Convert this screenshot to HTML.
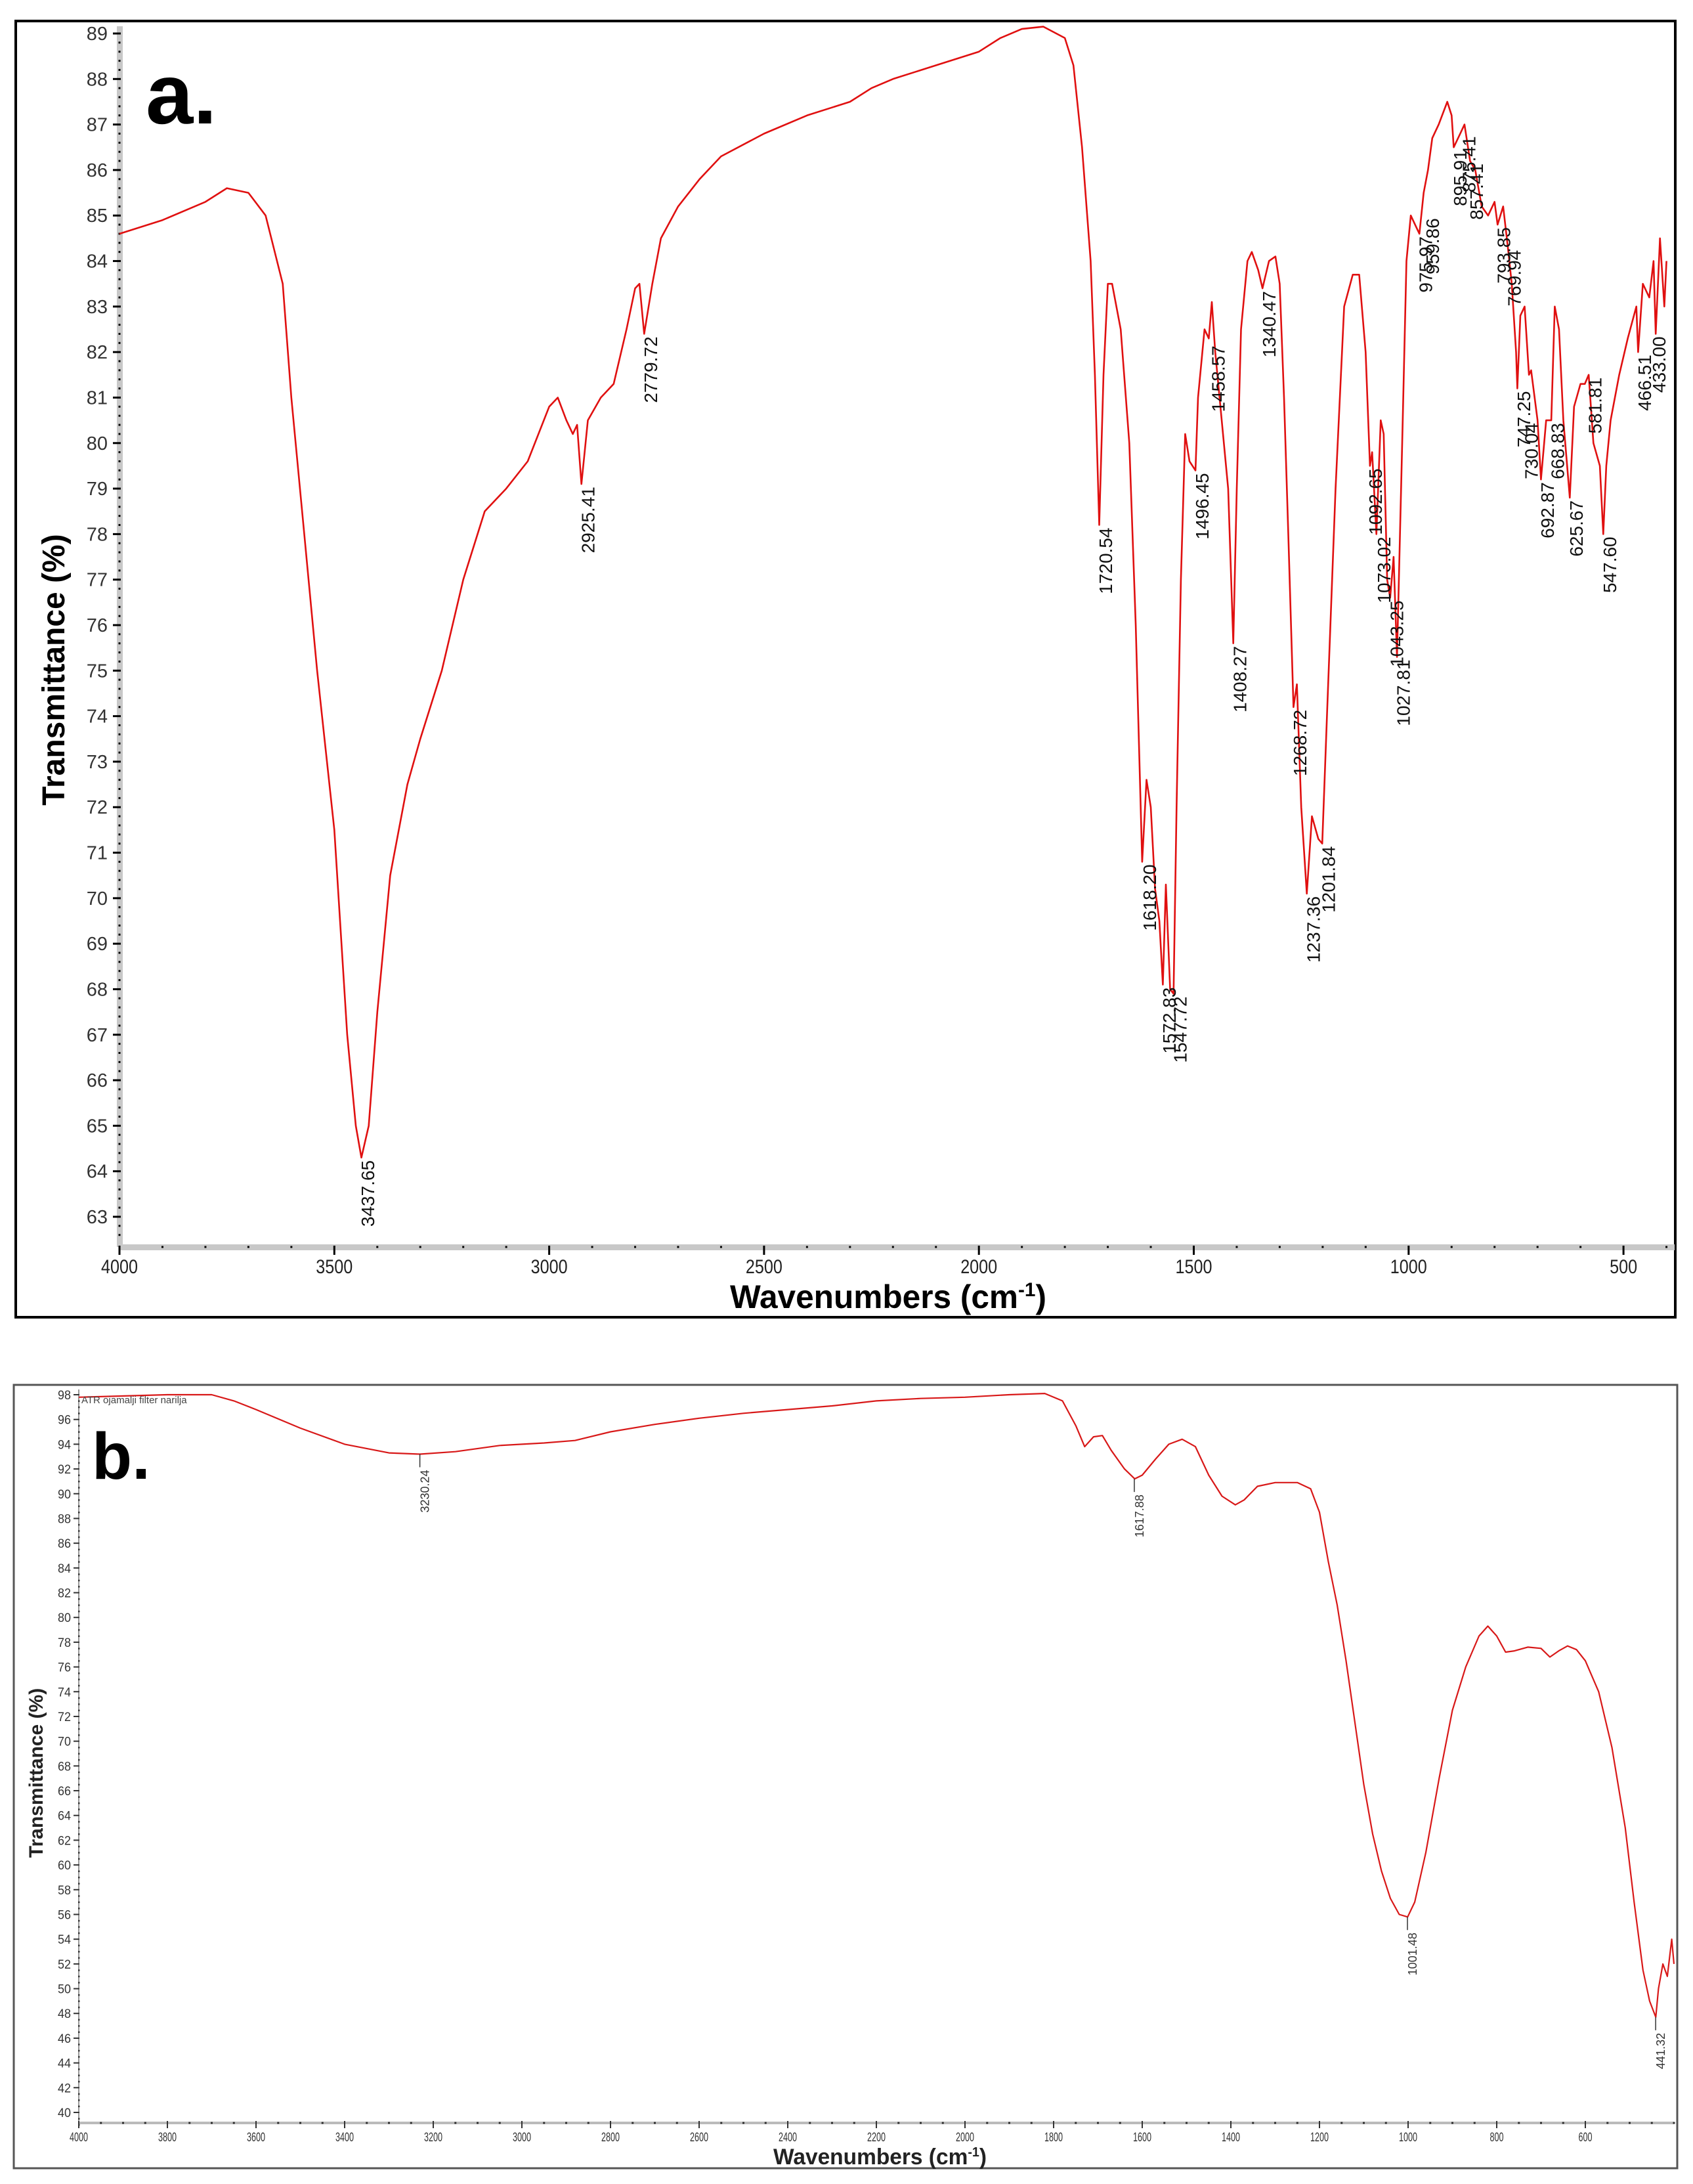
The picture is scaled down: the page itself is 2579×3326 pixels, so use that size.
<!DOCTYPE html>
<html><head><meta charset="utf-8"><title>FTIR spectra</title>
<style>html,body{margin:0;padding:0;background:#fff}svg{display:block}text{font-family:"Liberation Sans",sans-serif}</style></head>
<body>
<svg id="fig" width="2579" height="3326" viewBox="0 0 2579 3326" xmlns="http://www.w3.org/2000/svg">
<rect x="0" y="0" width="2579" height="3326" fill="#fff"/>
<rect x="24" y="32" width="2528" height="1974" fill="none" stroke="#000" stroke-width="4"/>
<rect x="21" y="2109" width="2534" height="1193" fill="none" stroke="#555" stroke-width="3"/>
<g id="ga"></g>
<g id="gb"></g>
</svg>
<script>
// Panel a data
const aWavenumbers=[4000,3900,3800,3750,3700,3660,3620,3600,3570,3540,3500,3470,3450,3437,3420,3400,3370,3330,3300,3250,3200,3150,3100,3050,3000,2980,2960,2945,2935,2925,2910,2880,2850,2820,2800,2790,2779,2760,2740,2700,2650,2600,2500,2400,2300,2250,2200,2100,2000,1950,1900,1850,1800,1780,1760,1740,1730,1720,1710,1700,1690,1670,1650,1635,1620,1610,1600,1590,1580,1572,1565,1555,1547,1540,1530,1520,1510,1496,1490,1475,1465,1458,1450,1440,1420,1408,1400,1390,1375,1365,1350,1340,1325,1310,1300,1290,1280,1268,1260,1250,1237,1225,1210,1201,1190,1170,1150,1130,1115,1100,1090,1085,1075,1065,1058,1050,1043,1035,1027,1015,1005,995,985,975,965,955,945,930,910,900,895,880,870,857,845,830,815,800,793,780,769,760,750,747,740,730,720,715,700,692,680,668,660,650,640,625,615,600,590,581,570,555,547,540,530,510,490,470,466,455,440,430,425,415,405,400];
const aTransmittance=[84.6,84.9,85.3,85.6,85.5,85.0,83.5,81,78,75,71.5,67,65,64.3,65,67.5,70.5,72.5,73.5,75,77,78.5,79,79.6,80.8,81,80.5,80.2,80.4,79.1,80.5,81.0,81.3,82.5,83.4,83.5,82.4,83.5,84.5,85.2,85.8,86.3,86.8,87.2,87.5,87.8,88.0,88.3,88.6,88.9,89.1,89.15,88.9,88.3,86.5,84,81.5,78.2,81.5,83.5,83.5,82.5,80,76,70.8,72.6,72.0,70.2,69.5,68.1,70.3,68.0,67.9,72,77,80.2,79.6,79.4,81,82.5,82.3,83.1,82.0,81,79,75.6,79,82.5,84.0,84.2,83.8,83.4,84.0,84.1,83.5,81,78,74.2,74.7,72,70.1,71.8,71.3,71.2,74,79,83,83.7,83.7,82,79.5,79.8,78.0,80.5,80.2,77,76.6,77.5,75.3,80,84.0,85.0,84.8,84.6,85.5,86.0,86.7,87.0,87.5,87.2,86.5,86.8,87.0,86.2,86.0,85.2,85.0,85.3,84.8,85.2,84.3,83.5,82.0,81.2,82.8,83.0,81.5,81.6,80.5,79.2,80.5,80.5,83.0,82.5,80.5,78.8,80.8,81.3,81.3,81.5,80.0,79.5,78.0,79.5,80.5,81.5,82.3,83.0,82.0,83.5,83.2,84.0,82.4,84.5,83.0,84.0];
const aPeakLabels=["3437.65","2925.41","2779.72","1720.54","1618.20","1572.83","1547.72","1496.45","1458.57","1408.27","1340.47","1268.72","1237.36","1201.84","1092.65","1073.02","1043.25","1027.81","975.97","959.86","895.91","875.41","857.41","793.85","769.94","747.25","730.04","692.87","668.83","625.67","581.81","547.60","466.51","433.00"];
const aPeakT=[64.3,79.1,82.4,78.2,70.8,68.1,67.9,79.4,82.2,75.6,83.4,74.2,70.1,71.2,79.5,78.0,76.6,75.3,84.6,85.0,86.5,86.8,86.2,84.8,84.3,81.2,80.5,79.2,80.5,78.8,81.5,78.0,82.0,82.4];
const aYTicks=[63,64,65,66,67,68,69,70,71,72,73,74,75,76,77,78,79,80,81,82,83,84,85,86,87,88,89];
const aXTicks=[4000,3500,3000,2500,2000,1500,1000,500];
// Panel b data
const bWavenumbers=[4000,3800,3700,3650,3600,3500,3400,3300,3230,3150,3050,2950,2880,2800,2700,2600,2500,2400,2300,2200,2100,2000,1900,1820,1780,1750,1730,1710,1690,1670,1640,1617,1600,1570,1540,1510,1480,1450,1420,1390,1370,1340,1300,1250,1220,1200,1180,1160,1140,1120,1100,1080,1060,1040,1020,1001,985,960,930,900,870,840,820,800,780,760,730,700,680,660,640,620,600,570,540,510,490,470,455,441,435,425,415,405,400];
const bTransmittance=[97.8,98.0,98.0,97.5,96.8,95.3,94.0,93.3,93.2,93.4,93.9,94.1,94.3,95.0,95.6,96.1,96.5,96.8,97.1,97.5,97.7,97.8,98.0,98.1,97.5,95.5,93.8,94.6,94.7,93.5,92.0,91.2,91.5,92.8,94.0,94.4,93.8,91.5,89.8,89.1,89.5,90.6,90.9,90.9,90.4,88.5,84.5,81.0,76.5,71.5,66.5,62.5,59.5,57.3,56.0,55.8,57.0,61,67,72.5,76,78.5,79.3,78.5,77.2,77.3,77.6,77.5,76.8,77.3,77.7,77.4,76.5,74,69.5,63,57,51.5,49.0,47.7,50,52,51,54,52];
const bPeakLabels=["3230.24","1617.88","1001.48","441.32"];
const bPeakWn=[3230.24,1617.88,1001.48,441.32];
const bPeakT=[93.2,91.2,55.8,47.7];
const bYTicks=[40,42,44,46,48,50,52,54,56,58,60,62,64,66,68,70,72,74,76,78,80,82,84,86,88,90,92,94,96,98];
const bXTicks=[4000,3800,3600,3400,3200,3000,2800,2600,2400,2200,2000,1800,1600,1400,1200,1000,800,600];

const NS="http://www.w3.org/2000/svg";
function mk(parent,tag,attrs,text){const e=document.createElementNS(NS,tag);for(const k in attrs)e.setAttribute(k,attrs[k]);if(text!==undefined)e.textContent=text;parent.appendChild(e);return e;}

// ---------- Panel a ----------
(function(){
const g=document.getElementById('ga');
const x0=182,x1=2551,wn0=4000,wnR=4000-(x1-x0)/327.3*500;
const X=w=>x0+(wn0-w)/(wn0-wnR)*(x1-x0);
const yTop=51,yBot=1853;
const Y=t=>yBot-(t-63)/(89-63)*(yBot-yTop);
const axY=1899;
let e=mk(g,'rect',{x:x0-4,y:40,width:9,height:axY-40,fill:'#c8c8c8'});

e=mk(g,'rect',{x:x0,y:axY-4,width:x1-x0,height:9,fill:'#c8c8c8'});

for(let v=62.6;v<=89.01;v+=0.2){const vv=Math.round(v*10)/10;const yy=Y(vv);if(Math.abs(vv-Math.round(vv))<0.01){mk(g,'line',{x1:x0-10,x2:x0+2,y1:yy,y2:yy,stroke:'#000','stroke-width':3});}else{mk(g,'rect',{x:x0-1.5,y:yy-1.5,width:3,height:3,fill:'#000'});}}
aYTicks.forEach(t=>{const el=mk(g,'text',{x:x0-18,y:Y(t)+10,'text-anchor':'end','font-size':29,fill:'#333'},String(t));});
for(let w=4000;w>=wnR;w-=100){const xx=X(w);if(w%500===0)mk(g,'line',{x1:xx,x2:xx,y1:axY-2,y2:axY+12,stroke:'#000','stroke-width':3});else mk(g,'rect',{x:xx-1.5,y:axY-1.5,width:3,height:3,fill:'#000'});}
aXTicks.forEach(t=>{const el=mk(g,'text',{x:X(t),y:axY+40,'text-anchor':'middle','font-size':30,fill:'#222',textLength:t>=1000?56:42,lengthAdjust:'spacingAndGlyphs'},String(t));});
let d='';aWavenumbers.forEach((w,i)=>{d+=(i?'L':'M')+X(w).toFixed(1)+' '+Y(aTransmittance[i]).toFixed(1);});
e=mk(g,'path',{d:d,fill:'none',stroke:'#e01010','stroke-width':2.6,'stroke-linejoin':'round'});

aPeakLabels.forEach((lab,i)=>{const w=parseFloat(lab);const px=X(w)+20;const py=Y(aPeakT[i])+4;
const el=mk(g,'text',{x:px,y:py,'text-anchor':'end','font-size':28,fill:'#111',transform:`rotate(-90 ${px} ${py})`},lab);
});
e=mk(g,'text',{x:222,y:188,'font-weight':'bold','font-size':130,fill:'#000'},'a.');

e=mk(g,'text',{x:98,y:1020,'text-anchor':'middle','font-weight':'bold','font-size':48,fill:'#000',transform:'rotate(-90 98 1020)'},'Transmittance (%)');

e=mk(g,'text',{x:1112,y:1992,'font-weight':'bold','font-size':50,fill:'#000',textLength:482,lengthAdjust:'spacingAndGlyphs'});

e.innerHTML='Wavenumbers (cm<tspan dy="-18" font-size="30">-1</tspan><tspan dy="18">)</tspan>';
})();

// ---------- Panel b ----------
(function(){
const g=document.getElementById('gb');
const x0=120,x1=2550,wn0=4000,wnR=400;
const X=w=>x0+(wn0-w)/(wn0-wnR)*(x1-x0);
const yTop=2124,yBot=3217;
const Y=t=>yBot-(t-40)/(98-40)*(yBot-yTop);
const axY=3233;
let e=mk(g,'line',{x1:x0,x2:x0,y1:2116,y2:axY,stroke:'#999','stroke-width':2});

e=mk(g,'line',{x1:x0,x2:x1,y1:axY,y2:axY,stroke:'#bbb','stroke-width':4});

for(let v=39;v<=98.01;v+=0.5){const yy=Y(v);if(Math.abs(v%2)<0.01)mk(g,'line',{x1:x0-8,x2:x0+1,y1:yy,y2:yy,stroke:'#333','stroke-width':2});else mk(g,'rect',{x:x0-1,y:yy-1,width:2.5,height:2.5,fill:'#333'});}
bYTicks.forEach(t=>{const el=mk(g,'text',{x:x0-12,y:Y(t)+7,'text-anchor':'end','font-size':19,fill:'#333',textLength:20,lengthAdjust:'spacingAndGlyphs'},String(t));});
for(let w=4000;w>=wnR;w-=50){const xx=X(w);if(w%200===0&&w>=600)mk(g,'line',{x1:xx,x2:xx,y1:axY-3,y2:axY+8,stroke:'#333','stroke-width':2});else mk(g,'rect',{x:xx-1.5,y:axY-1.5,width:3,height:3,fill:'#333'});}
bXTicks.forEach(t=>{const el=mk(g,'text',{x:X(t),y:axY+28,'text-anchor':'middle','font-size':19,fill:'#333',textLength:t>=1000?28:21,lengthAdjust:'spacingAndGlyphs'},String(t));});
let d='';bWavenumbers.forEach((w,i)=>{d+=(i?'L':'M')+X(w).toFixed(1)+' '+Y(bTransmittance[i]).toFixed(1);});
e=mk(g,'path',{d:d,fill:'none',stroke:'#d81818','stroke-width':2.2,'stroke-linejoin':'round'});

bPeakLabels.forEach((lab,i)=>{const px=X(bPeakWn[i]);const py=Y(bPeakT[i]);
const t=mk(g,'line',{x1:px,x2:px,y1:py,y2:py+20,stroke:'#333','stroke-width':1.5});

const tx=px+14,ty=py+24;
const el=mk(g,'text',{x:tx,y:ty,'text-anchor':'end','font-size':18,fill:'#333',transform:`rotate(-90 ${tx} ${ty})`},lab);
});
e=mk(g,'text',{x:124,y:2137,'font-size':15,fill:'#444'},'ATR ojamalji filter narilja');

e=mk(g,'text',{x:140,y:2252,'font-weight':'bold','font-size':100,fill:'#000'},'b.');

e=mk(g,'text',{x:65,y:2700,'text-anchor':'middle','font-weight':'bold','font-size':30,fill:'#222',transform:'rotate(-90 65 2700)'},'Transmittance (%)');

e=mk(g,'text',{x:1178,y:3296,'font-weight':'bold','font-size':34,fill:'#222',textLength:325,lengthAdjust:'spacingAndGlyphs'});

e.innerHTML='Wavenumbers (cm<tspan dy="-12" font-size="20">-1</tspan><tspan dy="12">)</tspan>';
})();
</script>
</body></html>
